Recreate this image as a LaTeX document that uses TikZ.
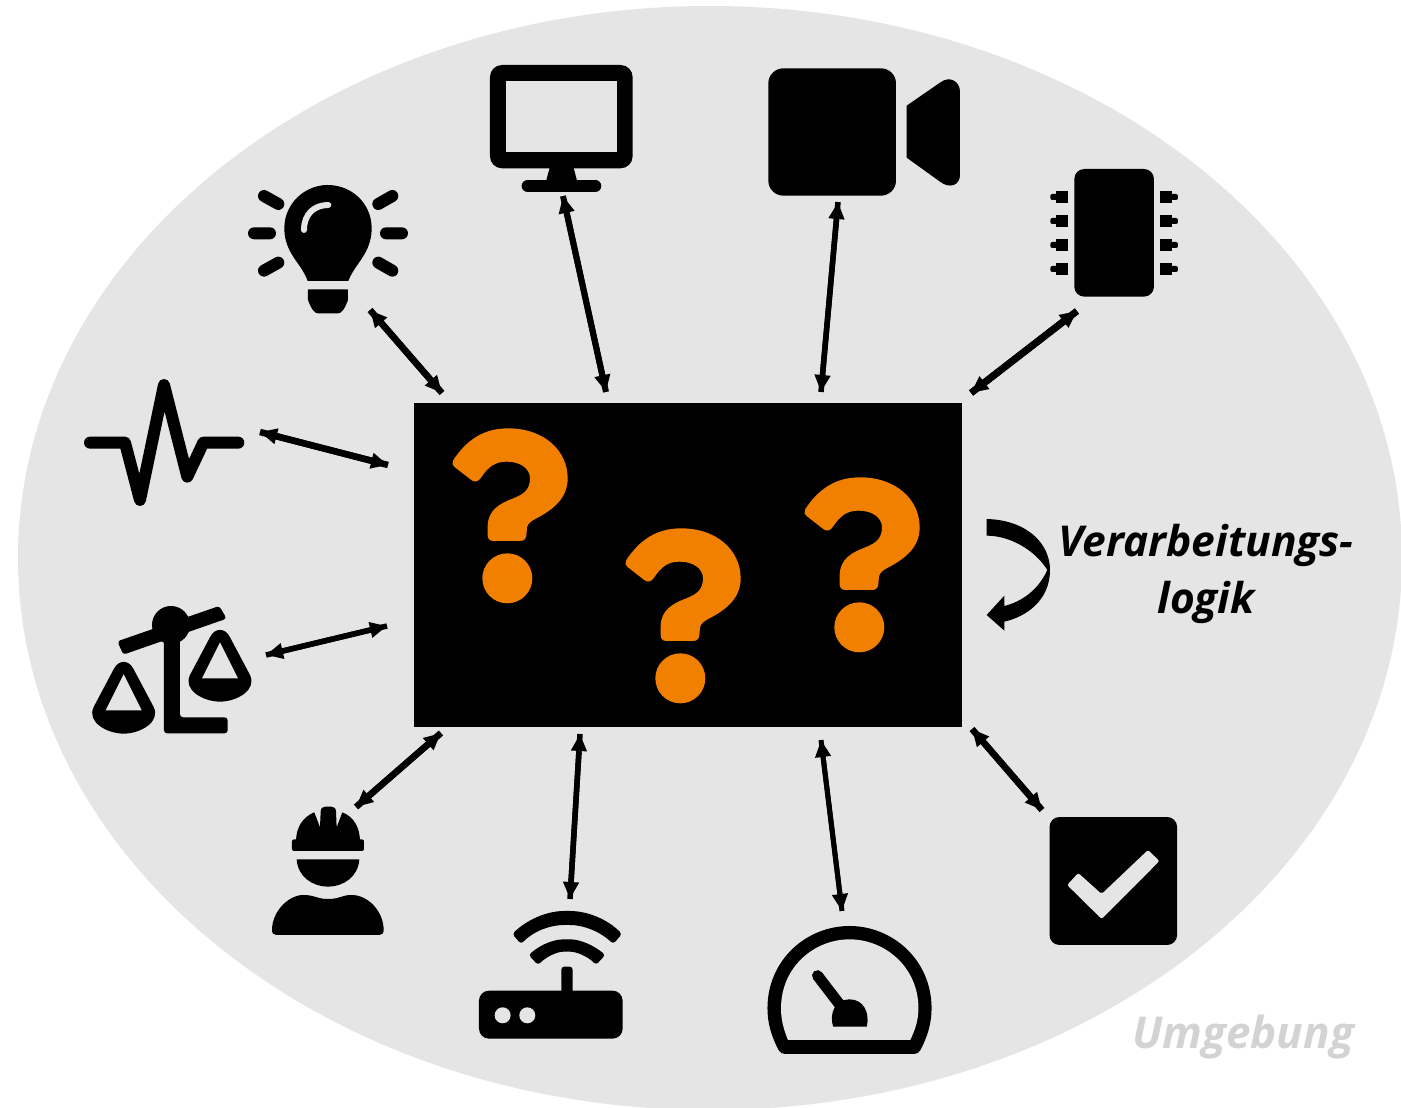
\documentclass[tikz,border=0pt]{standalone}
\usepackage{fontspec}
\setmainfont{Open Sans}
\usetikzlibrary{arrows.meta,shapes.geometric}
\definecolor{envgray}{HTML}{E5E5E5}
\definecolor{qorange}{HTML}{F28000}
\definecolor{umggray}{HTML}{D3D3D5}
\tikzset{
  ico/.style={fill=black,draw=none},
  hole/.style={fill=envgray,draw=none},
  strk/.style={draw=black,line width=12pt,line cap=round,line join=round},
  link/.style={line width=#1,{Triangle[length=17pt,width=15pt]}-{Triangle[length=17pt,width=15pt]},preaction={draw,line width=#1,-}},
  link/.default=6.5pt,
  zm/.style={shift={#1},x=0.3333pt,y=-0.3333pt},
  lbl/.style={font=\fontsize{42.5}{57}\selectfont\bfseries\itshape,align=center,inner sep=0pt}
}
\newcommand{\qmark}[1]{%
\begin{scope}[zm={#1}]
\fill[qorange] (100,150) .. controls (140,90) and (190,55) .. (265,55)
 .. controls (370,55) and (443,120) .. (443,205)
 .. controls (443,265) and (400,300) .. (340,330)
 .. controls (325,340) and (320,345) .. (320,365)
 .. controls (320,385) and (315,393) .. (300,393) -- (220,393)
 .. controls (208,393) and (203,385) .. (203,375) -- (203,350)
 .. controls (203,300) and (240,280) .. (280,265)
 .. controls (310,253) and (330,240) .. (330,205)
 .. controls (330,175) and (300,155) .. (260,155)
 .. controls (225,155) and (205,170) .. (183,203)
 .. controls (175,215) and (165,218) .. (155,211) -- (105,172)
 .. controls (97,165) and (95,158) .. (100,150) -- cycle;
\fill[qorange] (262,505) circle[radius=75];
\end{scope}}
\newcommand{\scalepan}[1]{%
\begin{scope}[shift={#1}]
\fill[ico] (421,830) .. controls (435,803) and (465,803) .. (479,830) -- (540,945)
 .. controls (562,990) and (500,1025) .. (450,1025)
 .. controls (400,1025) and (338,990) .. (360,945) -- cycle;
\fill[hole] (450,847) -- (504,955) -- (396,955) -- cycle;
\end{scope}}
\begin{document}
\begin{tikzpicture}[x=1pt,y=-1pt]
\path[use as bounding box] (0,0) rectangle (1401,1108);
\clip (0,0) rectangle (1401,1108);
\fill[white] (0,0) rectangle (1401,1108);
\node[ellipse,fill=envgray,inner sep=0pt,minimum width=1384pt,minimum height=1104pt] (env) at (710,558) {};
\node[fill=black,inner sep=0pt,minimum width=548pt,minimum height=324pt] (box) at (688,565) {};
\qmark{(420,410)}
\qmark{(593,510)}
\qmark{(772,459)}
% bulb
\begin{scope}[zm={(230,50)}]
\fill[ico] (233,693) .. controls (215,640) and (163,610) .. (163,535) .. controls (163,460) and (225,405) .. (293,405) .. controls (365,405) and (425,460) .. (425,535) .. controls (425,610) and (375,640) .. (355,693) -- cycle;
\draw[envgray,line width=6pt,line cap=round] (222,540) .. controls (222,490) and (255,465) .. (295,465);
\fill[ico] (234,718) -- (354,718) -- (354,750) .. controls (345,775) and (335,790) .. (325,790) -- (263,790) .. controls (253,790) and (243,775) .. (234,750) -- cycle;
\draw[strk] (72,550) -- (120,550) (468,550) -- (516,550) (102,438) -- (145,462) (445,462) -- (487,438) (102,662) -- (145,638) (445,638) -- (487,662);
% monitor
\fill[ico,rounded corners=12pt] (780,45) rectangle (1208,355);
\fill[hole] (827,92) rectangle (1162,307);
\fill[ico] (960,350) -- (1030,350) -- (1042,395) -- (948,395) -- cycle;
\draw[strk] (893,408) -- (1096,408);
\end{scope}
% camera and chip
\begin{scope}[zm={(750,50)}]
\fill[ico,rounded corners=15pt] (55,55) rectangle (438,437);
\fill[ico] (470,167) -- (570,98) .. controls (600,75) and (630,95) .. (630,125) -- (630,375) .. controls (630,405) and (600,418) .. (570,395) -- (470,323) -- cycle;
\fill[ico,rounded corners=10pt] (973,357) rectangle (1212,740);
\foreach \y in {423,495,567,639}{
 \fill[ico] (918,\y) rectangle (954,\y+35);
 \fill[ico,rounded corners=2pt] (901,\y+9) rectangle (925,\y+27);
 \fill[ico] (1230,\y) rectangle (1266,\y+35);
 \fill[ico,rounded corners=2pt] (1260,\y+9) rectangle (1284,\y+27);
}
\end{scope}
% pulse and scales
\begin{scope}[zm={(70,360)}]
\draw[strk] (60,248) -- (165,248) -- (210,420) -- (282,75) -- (352,350) -- (400,248) -- (505,248);
\fill[ico,rounded corners=3pt] (142,844) -- (448,738) -- (470,776) -- (160,884) -- cycle;
\fill[ico] (303,795) circle[radius=57];
\fill[ico,rounded corners=3pt] (282,820) -- (330,820) -- (330,1072) -- (473,1072) -- (473,1120) -- (282,1120) -- cycle;
\scalepan{(0,0)}
\scalepan{(-289,96)}
\end{scope}
% worker and router
\begin{scope}[zm={(260,780)}]
\fill[ico,rounded corners=2pt] (96,178) rectangle (312,213);
\fill[ico] (108,185) .. controls (108,140) and (130,110) .. (163,97) -- (180,142) -- (182,95) .. controls (182,85) and (188,80) .. (195,80) -- (215,80) .. controls (222,80) and (228,85) .. (228,95) -- (230,142) -- (247,97) .. controls (280,110) and (300,140) .. (300,185) -- cycle;
\fill[ico] (110,238) -- (298,238) .. controls (295,290) and (250,320) .. (204,320) .. controls (158,320) and (113,290) .. (110,238) -- cycle;
\fill[ico] (36,450) .. controls (36,395) and (85,345) .. (130,345) .. controls (165,345) and (170,357) .. (204,357) .. controls (240,357) and (245,345) .. (275,345) .. controls (325,345) and (371,395) .. (371,450) .. controls (371,460) and (366,465) .. (358,465) -- (49,465) .. controls (41,465) and (36,460) .. (36,450) -- cycle;
\fill[ico,rounded corners=10pt] (657,632) rectangle (1088,776);
\fill[hole] (728,706) circle[radius=24] (802,706) circle[radius=24];
\fill[ico,rounded corners=3pt] (904,640) -- (904,560) -- (938,560) -- (938,640) -- cycle;
\fill[ico,rounded corners=3pt] (757,462) .. controls (800,420) and (860,393) .. (921,393) .. controls (985,393) and (1045,420) .. (1086,462) -- (1060,492) .. controls (1015,450) and (965,435) .. (921,435) .. controls (875,435) and (825,450) .. (783,492) -- cycle;
\fill[ico,rounded corners=3pt] (806,525) .. controls (840,495) and (880,478) .. (921,478) .. controls (960,478) and (1000,495) .. (1036,525) -- (1008,555) .. controls (985,530) and (950,515) .. (921,515) .. controls (890,515) and (860,530) .. (834,555) -- cycle;
\end{scope}
% gauge, check (this crop was 2.4375x wide, 3x high)
\begin{scope}[shift={(749,780)},x=0.41026pt,y=-0.3333pt]
\fill[ico] (72,810) .. controls (55,770) and (45,730) .. (45,685) .. controls (45,540) and (140,438) .. (245,438) .. controls (350,438) and (445,540) .. (445,685) .. controls (445,730) and (435,770) .. (418,810) .. controls (414,818) and (410,822) .. (402,822) -- (88,822) .. controls (80,822) and (76,818) .. (72,810) -- cycle;
\fill[hole] (95,780) -- (393,780) .. controls (405,750) and (413,720) .. (413,685) .. controls (413,560) and (330,478) .. (245,478) .. controls (160,478) and (78,560) .. (78,685) .. controls (78,720) and (85,750) .. (95,780) -- cycle;
\draw[strk,line width=11pt] (167,587) -- (225,680);
\fill[ico] (205,740) .. controls (195,700) and (210,658) .. (245,658) .. controls (280,658) and (295,700) .. (287,740) -- cycle;
\begin{scope}[shift={(-2.5,0)}]
\fill[ico,rounded corners=10pt] (735,111) rectangle (1046,495);
\fill[envgray,rounded corners=2pt] (805,279) -- (862,342) -- (975,210) -- (1003,243) -- (862,417) -- (778,315) -- cycle;
\end{scope}
\end{scope}
% processing arrow
\begin{scope}[zm={(960,500)}]
\fill[ico] (80,57) .. controls (200,60) and (270,130) .. (270,210) .. controls (270,300) and (200,350) .. (133,365) -- (133,392) -- (80,345) -- (133,287) -- (133,318) .. controls (185,305) and (235,270) .. (262,210) .. controls (225,150) and (150,107) .. (80,107) -- cycle;
\end{scope}
% labels
\node[lbl] (proc) at (1206,574) {Verarbeitungs-\\logik};
\node[lbl,font=\fontsize{44}{57}\selectfont\bfseries\itshape,text=umggray,anchor=base] (umg) at (1243,1048) {Umgebung};
% connector ends
\coordinate (bulbE) at (370,310); \coordinate (bulbB) at (442,393);
\coordinate (monE) at (563,196); \coordinate (monB) at (606,392);
\coordinate (camE) at (838,202); \coordinate (camB) at (821,392);
\coordinate (chipE) at (1077,311); \coordinate (chipB) at (971,393);
\coordinate (pulE) at (260,432); \coordinate (pulB) at (388,465);
\coordinate (scaE) at (266,655); \coordinate (scaB) at (387,626);
\coordinate (worE) at (356,807); \coordinate (worB) at (441,733);
\coordinate (rouE) at (570,899); \coordinate (rouB) at (580,734);
\coordinate (gauE) at (842,911); \coordinate (gauB) at (821,740);
\coordinate (chkE) at (1042,810); \coordinate (chkB) at (972,729);
\draw[link] (bulbE) -- (bulbB);
\draw[link=6pt] (monE) -- (monB);
\draw[link=5.5pt] (camE) -- (camB);
\draw[link=7pt] (chipE) -- (chipB);
\draw[link=6.5pt] (pulE) -- (pulB);
\draw[link=5.5pt] (scaE) -- (scaB);
\draw[link] (worE) -- (worB);
\draw[link=5.5pt] (rouE) -- (rouB);
\draw[link=5pt] (gauE) -- (gauB);
\draw[link] (chkE) -- (chkB);
\end{tikzpicture}
\end{document}
